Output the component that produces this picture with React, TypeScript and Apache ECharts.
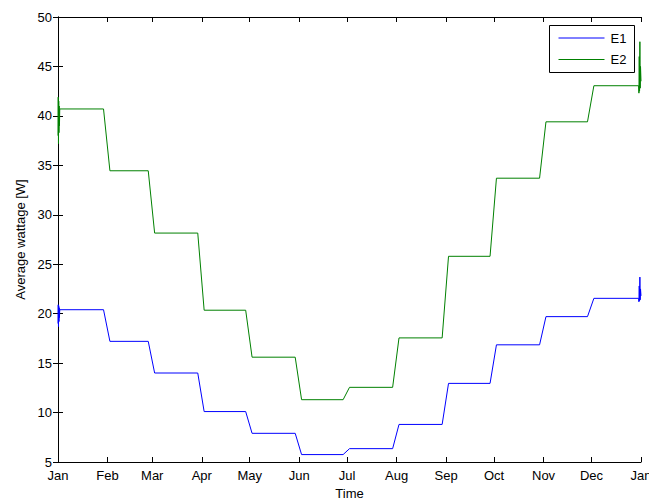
import React, { useEffect, useRef } from "react";
import * as echarts from "echarts";

const monthStarts = [0, 31, 59, 90, 120, 151, 181, 212, 243, 273, 304, 334, 365];
const monthLabels = ["Jan", "Feb", "Mar", "Apr", "May", "Jun", "Jul", "Aug", "Sep", "Oct", "Nov", "Dec", "Jan"];

const seriesNames = ["E1", "E2"];
const seriesColors = ["#0000ff", "#008000"];

const e1Levels = [20.4, 17.2, 14.0, 10.1, 7.9, 5.75, 6.35, 8.8, 12.95, 16.85, 19.7, 21.55];
const e2Levels = [40.7, 34.45, 28.15, 20.35, 15.6, 11.3, 12.55, 17.55, 25.8, 33.7, 39.4, 43.05];

// transition start / end, in days relative to the first of each month
const transitionStart = -2.5;
const transitionEnd = 1.5;

const startSpikeDays = [0, 0.15, 0.3, 0.45, 0.6, 0.75, 0.9, 1.1];
const e1StartSpikes = [19.0, 20.9, 18.7, 20.8, 19.2, 20.6, 19.6, 20.4];
const e2StartSpikes = [38.0, 41.9, 37.2, 41.5, 38.3, 41.0, 39.0, 40.7];

const endSpikeDays = [363.5, 363.7, 363.9, 364.1, 364.3, 364.5, 364.7, 365];
const e1EndSpikes = [21.55, 21.2, 22.8, 21.3, 23.7, 21.4, 22.5, 21.8];
const e2EndSpikes = [43.05, 42.3, 46.0, 42.5, 47.5, 42.8, 45.0, 43.5];

function buildSeries(levels: number[], startSpikes: number[], endSpikes: number[]) {
  const pts: number[][] = [];
  startSpikeDays.forEach((d, i) => pts.push([d, startSpikes[i]]));
  for (let m = 1; m < levels.length; m++) {
    const b = monthStarts[m];
    pts.push([b + transitionStart, levels[m - 1]]);
    pts.push([b + transitionEnd, levels[m]]);
  }
  endSpikeDays.forEach((d, i) => pts.push([d, endSpikes[i]]));
  return pts;
}

const FONT = "'Liberation Sans', Arial, Helvetica, sans-serif";

export default function App() {
  const ref = useRef<HTMLDivElement>(null);
  useEffect(() => {
    if (!ref.current) return;
    const chart = echarts.init(ref.current, undefined, { renderer: "svg" });
    const axisLine = { show: true, lineStyle: { color: "#000", width: 1 } };
    const tickStyle = { color: "#000", width: 1 };

    const legendX = 549;
    const legendY = 25;
    const legendGraphic = {
      type: "group",
      left: legendX,
      top: legendY,
      z: 100,
      children: [
        {
          type: "rect",
          shape: { x: 0, y: 0, width: 85, height: 47 },
          style: { fill: "#fff", stroke: "#000", lineWidth: 1 },
        },
        ...seriesNames.flatMap((n, i) => [
          {
            type: "line",
            shape: { x1: 9, y1: 12.5 + i * 21.5, x2: 55, y2: 12.5 + i * 21.5 },
            style: { stroke: seriesColors[i], lineWidth: 1 },
          },
          {
            type: "text",
            x: 61,
            y: 12.5 + i * 21.5,
            style: { text: n, fontFamily: FONT, fontSize: 13, fill: "#000", verticalAlign: "middle", align: "left" },
          },
        ]),
      ],
    };

    chart.setOption({
      animation: false,
      backgroundColor: "#fff",
      textStyle: { fontFamily: FONT },
      grid: { left: 58, right: 8, top: 17, bottom: 40, containLabel: false, outerBoundsMode: "none" },
      graphic: [legendGraphic],
      xAxis: [
        {
          type: "value",
          min: 0,
          max: 365,
          position: "bottom",
          name: "Time",
          nameLocation: "middle",
          nameGap: 25,
          nameTextStyle: { fontFamily: FONT, fontSize: 13, color: "#000" },
          axisLine,
          splitLine: { show: false },
          axisTick: { show: true, inside: true, length: 5, lineStyle: tickStyle, customValues: monthStarts },
          axisLabel: {
            show: true,
            customValues: monthStarts,
            fontFamily: FONT,
            fontSize: 13,
            color: "#000",
            margin: 7,
            showMinLabel: true,
            showMaxLabel: true,
            formatter: (v: number) => {
              const i = monthStarts.indexOf(Math.round(v));
              return i >= 0 ? monthLabels[i] : "";
            },
          },
        },
        {
          type: "value",
          min: 0,
          max: 365,
          position: "top",
          axisLine,
          splitLine: { show: false },
          axisTick: { show: true, inside: true, length: 5, lineStyle: tickStyle, customValues: monthStarts },
          axisLabel: { show: false },
        },
      ],
      yAxis: [
        {
          type: "value",
          min: 5,
          max: 50,
          interval: 5,
          position: "left",
          name: "Average wattage [W]",
          nameLocation: "middle",
          nameGap: 31,
          nameRotate: 90,
          nameTextStyle: { fontFamily: FONT, fontSize: 13, color: "#000" },
          axisLine,
          splitLine: { show: false },
          axisTick: { show: true, inside: true, length: 5, lineStyle: tickStyle },
          axisLabel: { fontFamily: FONT, fontSize: 13, color: "#000", margin: 6 },
        },
        {
          type: "value",
          min: 5,
          max: 50,
          interval: 5,
          position: "right",
          axisLine,
          splitLine: { show: false },
          axisTick: { show: true, inside: true, length: 5, lineStyle: tickStyle },
          axisLabel: { show: false },
        },
      ],
      series: [
        {
          name: seriesNames[0],
          type: "line",
          data: buildSeries(e1Levels, e1StartSpikes, e1EndSpikes),
          showSymbol: false,
          symbol: "none",
          color: seriesColors[0],
          lineStyle: { color: seriesColors[0], width: 1 },
        },
        {
          name: seriesNames[1],
          type: "line",
          data: buildSeries(e2Levels, e2StartSpikes, e2EndSpikes),
          showSymbol: false,
          symbol: "none",
          color: seriesColors[1],
          lineStyle: { color: seriesColors[1], width: 1 },
        },
      ],
    });
    return () => chart.dispose();
  }, []);
  return <div ref={ref} style={{ width: 649, height: 502, position: "absolute", left: 0, top: 0 }} />;
}
